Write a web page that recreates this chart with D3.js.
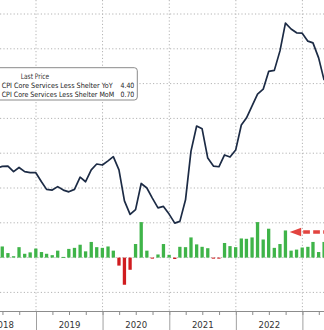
<!DOCTYPE html>
<html>
<head>
<meta charset="utf-8">
<script src="https://cdn.jsdelivr.net/npm/d3@7"></script>
<style>
  html, body { margin: 0; padding: 0; background: #fff; }
  svg { display: block; }
</style>
</head>
<body>
<div id="chart"></div>
<script>
// ---- data (monthly, May 2018 .. Apr 2023) ----
const months = [
  "2018-05","2018-06","2018-07","2018-08","2018-09","2018-10","2018-11","2018-12",
  "2019-01","2019-02","2019-03","2019-04","2019-05","2019-06","2019-07","2019-08","2019-09","2019-10","2019-11","2019-12",
  "2020-01","2020-02","2020-03","2020-04","2020-05","2020-06","2020-07","2020-08","2020-09","2020-10","2020-11","2020-12",
  "2021-01","2021-02","2021-03","2021-04","2021-05","2021-06","2021-07","2021-08","2021-09","2021-10","2021-11","2021-12",
  "2022-01","2022-02","2022-03","2022-04","2022-05","2022-06","2022-07","2022-08","2022-09","2022-10","2022-11","2022-12",
  "2023-01","2023-02","2023-03","2023-04"
];
const yoyValues = [
  3.57,3.62,3.63,3.47,3.59,3.47,3.44,3.44,
  3.18,2.96,2.94,3.04,2.94,2.89,2.96,3.31,3.18,3.52,3.69,3.66,
  3.78,3.90,3.52,2.63,2.24,2.38,3.13,3.00,2.71,2.43,2.47,2.25,
  1.99,2.04,2.66,4.06,4.78,4.70,3.86,3.63,3.61,3.95,3.89,4.09,
  4.81,5.01,5.36,5.70,5.84,6.35,6.38,6.94,7.74,7.57,7.46,7.45,
  7.22,7.17,6.74,6.10
];
const momValues = [
  0.25,0.32,0.13,0.04,0.30,0.11,0.15,0.26,
  0.16,0.11,0.07,0.20,0.02,0.25,0.28,0.37,0.18,0.45,0.30,0.28,
  0.32,0.20,-0.23,-0.78,-0.35,0.39,1.02,0.20,-0.03,0.09,0.39,0.08,
  -0.04,0.31,0.30,0.58,0.38,0.31,0.27,-0.03,-0.03,0.42,0.33,0.30,
  0.55,0.54,0.58,1.02,0.52,0.83,0.28,0.39,0.78,0.20,0.23,0.29,
  0.31,0.45,0.16,0.45
];
const yearLabels = ["2018","2019","2020","2021","2022"];
const yearBoundaries = ["2018","2019","2020","2021","2022","2023","2024"];
const yoyGridTicks = [0,1,2,3,4,5,6,7,8];
const legendTitle = "Last Price";
const legendNames = ["CPI Core Services Less Shelter YoY","CPI Core Services Less Shelter MoM"];
const legendValues = ["4.40","0.70"];
const arrowMonth = "2022-09";

// ---- layout ----
const W = 324, H = 330;
const axisY = 311.5;
const parse = s => { const [y,m] = s.split("-").map(Number); return new Date(y, m, 0); }; // month end
const data = months.map((m,i) => ({ date: parse(m), key: m, yoy: yoyValues[i], mom: momValues[i] }));

const x = d3.scaleTime().domain([new Date(2019,0,1), new Date(2023,0,1)]).range([36, 302.4]);
const yLine = d3.scaleLinear().domain([0, 8]).range([292.4, 14]);
const yBar = d3.scaleLinear().domain([-1, 1]).range([292.4, 222.8]);

const svg = d3.select("#chart").append("svg").attr("width", W).attr("height", H);

const gridColor = "#b4b4b4";
// horizontal gridlines
svg.append("g").selectAll("line").data(yoyGridTicks).join("line")
  .attr("x1", 0).attr("x2", W)
  .attr("y1", d => yLine(d)).attr("y2", d => yLine(d))
  .attr("stroke", gridColor).attr("stroke-width", 1).attr("stroke-dasharray", "1.2,2.2");

const yearStarts = yearBoundaries.map(y => new Date(+y, 0, 1));
// vertical gridlines at year boundaries
svg.append("g").selectAll("line").data(yearStarts).join("line")
  .attr("x1", d => x(d)).attr("x2", d => x(d))
  .attr("y1", 0).attr("y2", axisY)
  .attr("stroke", gridColor).attr("stroke-width", 1).attr("stroke-dasharray", "1.2,2.2");

// bars
const barW = 3.3;
svg.append("g").selectAll("rect").data(data).join("rect")
  .attr("x", d => x(d.date) - barW/2)
  .attr("width", barW)
  .attr("y", d => d.mom >= 0 ? yBar(d.mom) : yBar(0))
  .attr("height", d => Math.max(1, Math.abs(yBar(d.mom) - yBar(0))))
  .attr("fill", d => d.mom >= 0 ? "#3fb449" : "#d01c1f");

// line
svg.append("path").datum(data)
  .attr("fill", "none").attr("stroke", "#1c2b45").attr("stroke-width", 1.7)
  .attr("stroke-linejoin", "round")
  .attr("d", d3.line().x(d => x(d.date)).y(d => yLine(d.yoy)));

// x axis
const axisFont = "'Liberation Sans Narrow','DejaVu Sans Condensed','Liberation Sans',sans-serif";
const quarterTicks = d3.timeMonth.range(new Date(2018,0,1), new Date(2024,0,1), 3);
const gMinor = svg.append("g").attr("transform", `translate(0,${axisY})`)
  .call(d3.axisBottom(x).tickValues(quarterTicks).tickSize(3.5).tickFormat(""));
gMinor.select(".domain").remove();
gMinor.selectAll("line").attr("stroke", "#8c8c8c");

const gMajor = svg.append("g").attr("transform", `translate(0,${axisY})`)
  .call(d3.axisBottom(x).tickValues(yearStarts).tickSize(H - axisY).tickFormat(""));
gMajor.select(".domain").remove();
gMajor.selectAll("line").attr("stroke", "#a0a0a0");

svg.append("line").attr("x1", 0).attr("x2", W).attr("y1", axisY).attr("y2", axisY)
  .attr("stroke", "#8c8c8c").attr("stroke-width", 1);

const midYears = yearLabels.map(y => new Date(+y, 6, 1));
const gLab = svg.append("g").attr("transform", `translate(0,${axisY})`)
  .call(d3.axisBottom(x).tickValues(midYears).tickSize(0).tickPadding(10)
    .tickFormat((d,i) => yearLabels[i]));
gLab.select(".domain").remove();
gLab.selectAll("text").attr("font-family", axisFont).attr("font-size", 9.5).attr("fill", "#333");

// legend box
const legendFont = axisFont;
const lg = svg.append("g");
lg.append("rect").attr("x", -10).attr("y", 67.7).attr("width", 147.3).attr("height", 32.3)
  .attr("rx", 3).attr("fill", "#fff").attr("stroke", "#8a8a8a").attr("stroke-width", 1);
lg.append("text").attr("x", 20.7).attr("y", 79.2).text(legendTitle)
  .attr("font-family", legendFont).attr("font-size", 7.6).attr("fill", "#333")
  .attr("textLength", 28.5).attr("lengthAdjust", "spacingAndGlyphs");
legendNames.forEach((n, i) => {
  const by = 88.2 + i * 8.6;
  lg.append("text").attr("x", 1.7).attr("y", by).text(n)
    .attr("font-family", legendFont).attr("font-size", 7.3).attr("fill", "#222")
    .attr("textLength", i === 0 ? 111 : 112.5).attr("lengthAdjust", "spacingAndGlyphs");
  lg.append("text").attr("x", 134.3).attr("y", by).text(legendValues[i])
    .attr("text-anchor", "end")
    .attr("font-family", legendFont).attr("font-size", 7.3).attr("fill", "#222")
    .attr("textLength", 13.8).attr("lengthAdjust", "spacingAndGlyphs");
});

// red dashed arrow pointing at the highlighted bar
const target = data.find(d => d.key === arrowMonth);
const tipX = x(target.date) + barW/2 + 2.6;
const tipY = yBar(target.mom) + 1.5;
const arrowColor = "#e2443f";
svg.append("path")
  .attr("d", `M${tipX},${tipY} L${tipX + 11.5},${tipY - 4.3} L${tipX + 11.5},${tipY + 4.3} Z`)
  .attr("fill", arrowColor);
svg.append("line")
  .attr("x1", tipX + 13.5).attr("x2", W + 5).attr("y1", tipY).attr("y2", tipY)
  .attr("stroke", arrowColor).attr("stroke-width", 3.4).attr("stroke-dasharray", "6.7,3.3");
</script>
</body>
</html>
